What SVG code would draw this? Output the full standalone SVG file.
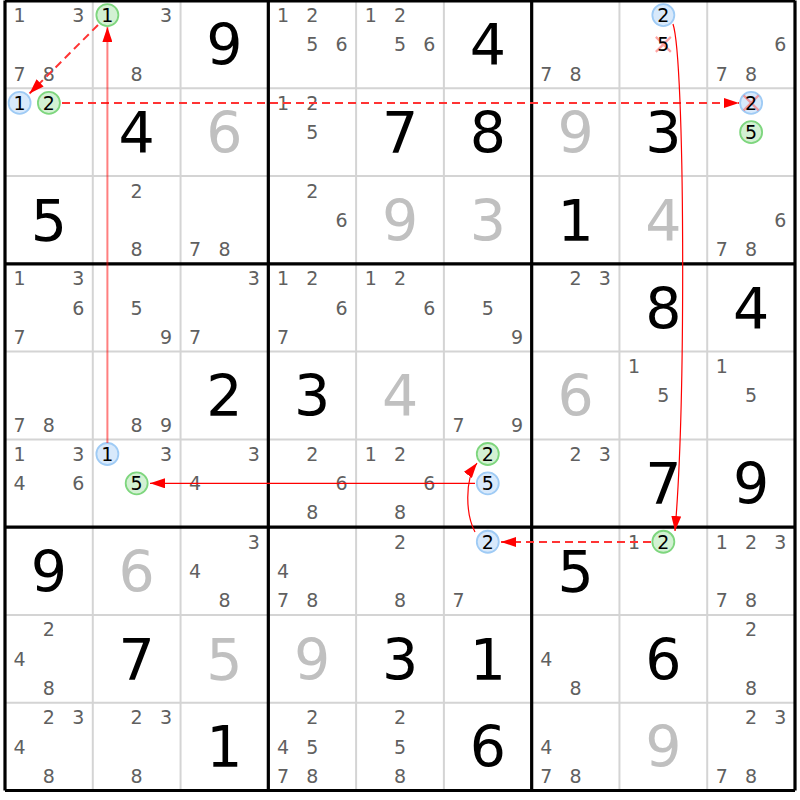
<svg xmlns="http://www.w3.org/2000/svg" width="800" height="800" viewBox="0 0 800 800">
<defs>
<style>
text{font-family:"DejaVu Sans","Liberation Sans",sans-serif;text-anchor:middle}
.k{font-size:19px;fill:#606060}
.h{font-size:19px;fill:#000}
.b{font-size:57px;fill:#000}
.l{font-size:57px;fill:#c0c0c0}
.cb{fill:#d8e9fb;stroke:#9fcbf5;stroke-width:1.8}
.cg{fill:#d3f1d3;stroke:#7ed67e;stroke-width:1.8}
.x{stroke:#ff5a5a;stroke-opacity:0.55;stroke-width:2.2}
.thin{stroke:#d4d4d4;stroke-width:2}
.thick{stroke:#000;stroke-width:3.2}
.dash{fill:none;stroke:#ff3333;stroke-width:2;stroke-dasharray:8,5}
.sol{fill:none;stroke:#ff0000;stroke-width:1.2}
</style>
<marker id="ah" viewBox="0 0 15 10" refX="15" refY="5" markerWidth="15" markerHeight="10" markerUnits="userSpaceOnUse" orient="auto"><path d="M0,0L15,5L0,10z" fill="#ff0000"/></marker>
</defs>
<rect width="800" height="800" fill="#fff"/>
<g id="grid">
<path class="thin" d="M92.78,0.5V790.5M180.56,0.5V790.5M356.11,0.5V790.5M443.89,0.5V790.5M619.44,0.5V790.5M707.22,0.5V790.5M5,88.28H795M5,176.06H795M5,351.61H795M5,439.39H795M5,614.94H795M5,702.72H795"/>
<path class="thick" d="M5,0.5V790.5M268.33,0.5V790.5M531.67,0.5V790.5M795,0.5V790.5M5,1H795M5,263.83H795M5,527.17H795M5,790.5H795"/>
</g>
<g id="r0c0" transform="translate(5,0.5)"><text class="k" x="14.6" y="21.5">1</text><text class="k" x="73.2" y="21.5">3</text><text class="k" x="14.6" y="80.05">7</text><text class="k" x="43.9" y="80.05">8</text></g>
<g id="r0c1" transform="translate(92.78,0.5)"><circle class="cg" cx="14.6" cy="14.6" r="11"/><text class="h" x="14.6" y="21.5">1</text><text class="k" x="73.2" y="21.5">3</text><text class="k" x="43.9" y="80.05">8</text></g>
<g id="r0c2" transform="translate(180.56,0.5)"><text class="b" x="43.9" y="64.7">9</text></g>
<g id="r0c3" transform="translate(268.33,0.5)"><text class="k" x="14.6" y="21.5">1</text><text class="k" x="43.9" y="21.5">2</text><text class="k" x="43.9" y="50.8">5</text><text class="k" x="73.2" y="50.8">6</text></g>
<g id="r0c4" transform="translate(356.11,0.5)"><text class="k" x="14.6" y="21.5">1</text><text class="k" x="43.9" y="21.5">2</text><text class="k" x="43.9" y="50.8">5</text><text class="k" x="73.2" y="50.8">6</text></g>
<g id="r0c5" transform="translate(443.89,0.5)"><text class="b" x="43.9" y="64.7">4</text></g>
<g id="r0c6" transform="translate(531.67,0.5)"><text class="k" x="14.6" y="80.05">7</text><text class="k" x="43.9" y="80.05">8</text></g>
<g id="r0c7" transform="translate(619.44,0.5)"><circle class="cb" cx="43.9" cy="14.6" r="11"/><text class="h" x="43.9" y="21.5">2</text><path class="x" d="M36.4,36.4L51.4,51.4M51.4,36.4L36.4,51.4"/><text class="h" x="43.9" y="50.8">5</text></g>
<g id="r0c8" transform="translate(707.22,0.5)"><text class="k" x="73.2" y="50.8">6</text><text class="k" x="14.6" y="80.05">7</text><text class="k" x="43.9" y="80.05">8</text></g>

<g id="r1c0" transform="translate(5,88.28)"><circle class="cb" cx="14.6" cy="14.6" r="11"/><text class="h" x="14.6" y="21.5">1</text><circle class="cg" cx="43.9" cy="14.6" r="11"/><text class="h" x="43.9" y="21.5">2</text></g>
<g id="r1c1" transform="translate(92.78,88.28)"><text class="b" x="43.9" y="64.7">4</text></g>
<g id="r1c2" transform="translate(180.56,88.28)"><text class="l" x="43.9" y="64.7">6</text></g>
<g id="r1c3" transform="translate(268.33,88.28)"><text class="k" x="14.6" y="21.5">1</text><text class="k" x="43.9" y="21.5">2</text><text class="k" x="43.9" y="50.8">5</text></g>
<g id="r1c4" transform="translate(356.11,88.28)"><text class="b" x="43.9" y="64.7">7</text></g>
<g id="r1c5" transform="translate(443.89,88.28)"><text class="b" x="43.9" y="64.7">8</text></g>
<g id="r1c6" transform="translate(531.67,88.28)"><text class="l" x="43.9" y="64.7">9</text></g>
<g id="r1c7" transform="translate(619.44,88.28)"><text class="b" x="43.9" y="64.7">3</text></g>
<g id="r1c8" transform="translate(707.22,88.28)"><circle class="cb" cx="43.9" cy="14.6" r="11"/><path class="x" d="M36.4,7.1L51.4,22.1M51.4,7.1L36.4,22.1"/><text class="h" x="43.9" y="21.5">2</text><circle class="cg" cx="43.9" cy="43.9" r="11"/><text class="h" x="43.9" y="50.8">5</text></g>

<g id="r2c0" transform="translate(5,176.06)"><text class="b" x="43.9" y="64.7">5</text></g>
<g id="r2c1" transform="translate(92.78,176.06)"><text class="k" x="43.9" y="21.5">2</text><text class="k" x="43.9" y="80.05">8</text></g>
<g id="r2c2" transform="translate(180.56,176.06)"><text class="k" x="14.6" y="80.05">7</text><text class="k" x="43.9" y="80.05">8</text></g>
<g id="r2c3" transform="translate(268.33,176.06)"><text class="k" x="43.9" y="21.5">2</text><text class="k" x="73.2" y="50.8">6</text></g>
<g id="r2c4" transform="translate(356.11,176.06)"><text class="l" x="43.9" y="64.7">9</text></g>
<g id="r2c5" transform="translate(443.89,176.06)"><text class="l" x="43.9" y="64.7">3</text></g>
<g id="r2c6" transform="translate(531.67,176.06)"><text class="b" x="43.9" y="64.7">1</text></g>
<g id="r2c7" transform="translate(619.44,176.06)"><text class="l" x="43.9" y="64.7">4</text></g>
<g id="r2c8" transform="translate(707.22,176.06)"><text class="k" x="73.2" y="50.8">6</text><text class="k" x="14.6" y="80.05">7</text><text class="k" x="43.9" y="80.05">8</text></g>

<g id="r3c0" transform="translate(5,263.83)"><text class="k" x="14.6" y="21.5">1</text><text class="k" x="73.2" y="21.5">3</text><text class="k" x="73.2" y="50.8">6</text><text class="k" x="14.6" y="80.05">7</text></g>
<g id="r3c1" transform="translate(92.78,263.83)"><text class="k" x="43.9" y="50.8">5</text><text class="k" x="73.2" y="80.05">9</text></g>
<g id="r3c2" transform="translate(180.56,263.83)"><text class="k" x="73.2" y="21.5">3</text><text class="k" x="14.6" y="80.05">7</text></g>
<g id="r3c3" transform="translate(268.33,263.83)"><text class="k" x="14.6" y="21.5">1</text><text class="k" x="43.9" y="21.5">2</text><text class="k" x="73.2" y="50.8">6</text><text class="k" x="14.6" y="80.05">7</text></g>
<g id="r3c4" transform="translate(356.11,263.83)"><text class="k" x="14.6" y="21.5">1</text><text class="k" x="43.9" y="21.5">2</text><text class="k" x="73.2" y="50.8">6</text></g>
<g id="r3c5" transform="translate(443.89,263.83)"><text class="k" x="43.9" y="50.8">5</text><text class="k" x="73.2" y="80.05">9</text></g>
<g id="r3c6" transform="translate(531.67,263.83)"><text class="k" x="43.9" y="21.5">2</text><text class="k" x="73.2" y="21.5">3</text></g>
<g id="r3c7" transform="translate(619.44,263.83)"><text class="b" x="43.9" y="64.7">8</text></g>
<g id="r3c8" transform="translate(707.22,263.83)"><text class="b" x="43.9" y="64.7">4</text></g>

<g id="r4c0" transform="translate(5,351.61)"><text class="k" x="14.6" y="80.05">7</text><text class="k" x="43.9" y="80.05">8</text></g>
<g id="r4c1" transform="translate(92.78,351.61)"><text class="k" x="43.9" y="80.05">8</text><text class="k" x="73.2" y="80.05">9</text></g>
<g id="r4c2" transform="translate(180.56,351.61)"><text class="b" x="43.9" y="64.7">2</text></g>
<g id="r4c3" transform="translate(268.33,351.61)"><text class="b" x="43.9" y="64.7">3</text></g>
<g id="r4c4" transform="translate(356.11,351.61)"><text class="l" x="43.9" y="64.7">4</text></g>
<g id="r4c5" transform="translate(443.89,351.61)"><text class="k" x="14.6" y="80.05">7</text><text class="k" x="73.2" y="80.05">9</text></g>
<g id="r4c6" transform="translate(531.67,351.61)"><text class="l" x="43.9" y="64.7">6</text></g>
<g id="r4c7" transform="translate(619.44,351.61)"><text class="k" x="14.6" y="21.5">1</text><text class="k" x="43.9" y="50.8">5</text></g>
<g id="r4c8" transform="translate(707.22,351.61)"><text class="k" x="14.6" y="21.5">1</text><text class="k" x="43.9" y="50.8">5</text></g>

<g id="r5c0" transform="translate(5,439.39)"><text class="k" x="14.6" y="21.5">1</text><text class="k" x="73.2" y="21.5">3</text><text class="k" x="14.6" y="50.8">4</text><text class="k" x="73.2" y="50.8">6</text></g>
<g id="r5c1" transform="translate(92.78,439.39)"><circle class="cb" cx="14.6" cy="14.6" r="11"/><text class="h" x="14.6" y="21.5">1</text><text class="k" x="73.2" y="21.5">3</text><circle class="cg" cx="43.9" cy="43.9" r="11"/><text class="h" x="43.9" y="50.8">5</text></g>
<g id="r5c2" transform="translate(180.56,439.39)"><text class="k" x="73.2" y="21.5">3</text><text class="k" x="14.6" y="50.8">4</text></g>
<g id="r5c3" transform="translate(268.33,439.39)"><text class="k" x="43.9" y="21.5">2</text><text class="k" x="73.2" y="50.8">6</text><text class="k" x="43.9" y="80.05">8</text></g>
<g id="r5c4" transform="translate(356.11,439.39)"><text class="k" x="14.6" y="21.5">1</text><text class="k" x="43.9" y="21.5">2</text><text class="k" x="73.2" y="50.8">6</text><text class="k" x="43.9" y="80.05">8</text></g>
<g id="r5c5" transform="translate(443.89,439.39)"><circle class="cg" cx="43.9" cy="14.6" r="11"/><text class="h" x="43.9" y="21.5">2</text><circle class="cb" cx="43.9" cy="43.9" r="11"/><text class="h" x="43.9" y="50.8">5</text></g>
<g id="r5c6" transform="translate(531.67,439.39)"><text class="k" x="43.9" y="21.5">2</text><text class="k" x="73.2" y="21.5">3</text></g>
<g id="r5c7" transform="translate(619.44,439.39)"><text class="b" x="43.9" y="64.7">7</text></g>
<g id="r5c8" transform="translate(707.22,439.39)"><text class="b" x="43.9" y="64.7">9</text></g>

<g id="r6c0" transform="translate(5,527.17)"><text class="b" x="43.9" y="64.7">9</text></g>
<g id="r6c1" transform="translate(92.78,527.17)"><text class="l" x="43.9" y="64.7">6</text></g>
<g id="r6c2" transform="translate(180.56,527.17)"><text class="k" x="73.2" y="21.5">3</text><text class="k" x="14.6" y="50.8">4</text><text class="k" x="43.9" y="80.05">8</text></g>
<g id="r6c3" transform="translate(268.33,527.17)"><text class="k" x="14.6" y="50.8">4</text><text class="k" x="14.6" y="80.05">7</text><text class="k" x="43.9" y="80.05">8</text></g>
<g id="r6c4" transform="translate(356.11,527.17)"><text class="k" x="43.9" y="21.5">2</text><text class="k" x="43.9" y="80.05">8</text></g>
<g id="r6c5" transform="translate(443.89,527.17)"><circle class="cb" cx="43.9" cy="14.6" r="11"/><text class="h" x="43.9" y="21.5">2</text><text class="k" x="14.6" y="80.05">7</text></g>
<g id="r6c6" transform="translate(531.67,527.17)"><text class="b" x="43.9" y="64.7">5</text></g>
<g id="r6c7" transform="translate(619.44,527.17)"><text class="k" x="14.6" y="21.5">1</text><circle class="cg" cx="43.9" cy="14.6" r="11"/><text class="h" x="43.9" y="21.5">2</text></g>
<g id="r6c8" transform="translate(707.22,527.17)"><text class="k" x="14.6" y="21.5">1</text><text class="k" x="43.9" y="21.5">2</text><text class="k" x="73.2" y="21.5">3</text><text class="k" x="14.6" y="80.05">7</text><text class="k" x="43.9" y="80.05">8</text></g>

<g id="r7c0" transform="translate(5,614.94)"><text class="k" x="43.9" y="21.5">2</text><text class="k" x="14.6" y="50.8">4</text><text class="k" x="43.9" y="80.05">8</text></g>
<g id="r7c1" transform="translate(92.78,614.94)"><text class="b" x="43.9" y="64.7">7</text></g>
<g id="r7c2" transform="translate(180.56,614.94)"><text class="l" x="43.9" y="64.7">5</text></g>
<g id="r7c3" transform="translate(268.33,614.94)"><text class="l" x="43.9" y="64.7">9</text></g>
<g id="r7c4" transform="translate(356.11,614.94)"><text class="b" x="43.9" y="64.7">3</text></g>
<g id="r7c5" transform="translate(443.89,614.94)"><text class="b" x="43.9" y="64.7">1</text></g>
<g id="r7c6" transform="translate(531.67,614.94)"><text class="k" x="14.6" y="50.8">4</text><text class="k" x="43.9" y="80.05">8</text></g>
<g id="r7c7" transform="translate(619.44,614.94)"><text class="b" x="43.9" y="64.7">6</text></g>
<g id="r7c8" transform="translate(707.22,614.94)"><text class="k" x="43.9" y="21.5">2</text><text class="k" x="43.9" y="80.05">8</text></g>

<g id="r8c0" transform="translate(5,702.72)"><text class="k" x="43.9" y="21.5">2</text><text class="k" x="73.2" y="21.5">3</text><text class="k" x="14.6" y="50.8">4</text><text class="k" x="43.9" y="80.05">8</text></g>
<g id="r8c1" transform="translate(92.78,702.72)"><text class="k" x="43.9" y="21.5">2</text><text class="k" x="73.2" y="21.5">3</text><text class="k" x="43.9" y="80.05">8</text></g>
<g id="r8c2" transform="translate(180.56,702.72)"><text class="b" x="43.9" y="64.7">1</text></g>
<g id="r8c3" transform="translate(268.33,702.72)"><text class="k" x="43.9" y="21.5">2</text><text class="k" x="14.6" y="50.8">4</text><text class="k" x="43.9" y="50.8">5</text><text class="k" x="14.6" y="80.05">7</text><text class="k" x="43.9" y="80.05">8</text></g>
<g id="r8c4" transform="translate(356.11,702.72)"><text class="k" x="43.9" y="21.5">2</text><text class="k" x="43.9" y="50.8">5</text><text class="k" x="43.9" y="80.05">8</text></g>
<g id="r8c5" transform="translate(443.89,702.72)"><text class="b" x="43.9" y="64.7">6</text></g>
<g id="r8c6" transform="translate(531.67,702.72)"><text class="k" x="14.6" y="50.8">4</text><text class="k" x="14.6" y="80.05">7</text><text class="k" x="43.9" y="80.05">8</text></g>
<g id="r8c7" transform="translate(619.44,702.72)"><text class="l" x="43.9" y="64.7">9</text></g>
<g id="r8c8" transform="translate(707.22,702.72)"><text class="k" x="43.9" y="21.5">2</text><text class="k" x="73.2" y="21.5">3</text><text class="k" x="14.6" y="80.05">7</text><text class="k" x="43.9" y="80.05">8</text></g>

<g id="connectors">
<path class="dash" d="M98,25L29.5,93.5" marker-end="url(#ah)"/>
<path class="dash" d="M62,103H739" marker-end="url(#ah)"/>
<path class="dash" d="M651,542H501" marker-end="url(#ah)"/>
<path d="M107.4,443V27" fill="none" stroke="#ff0000" stroke-opacity="0.5" stroke-width="2" marker-end="url(#ah)"/>
<path class="sol" d="M475,483.3H150" marker-end="url(#ah)"/>
<path class="sol" d="M673,24C685,60 686,400 675,531" marker-end="url(#ah)"/>
<path class="sol" d="M475,532C466,515 464,480 477,463" marker-end="url(#ah)"/>
</g>
</svg>
